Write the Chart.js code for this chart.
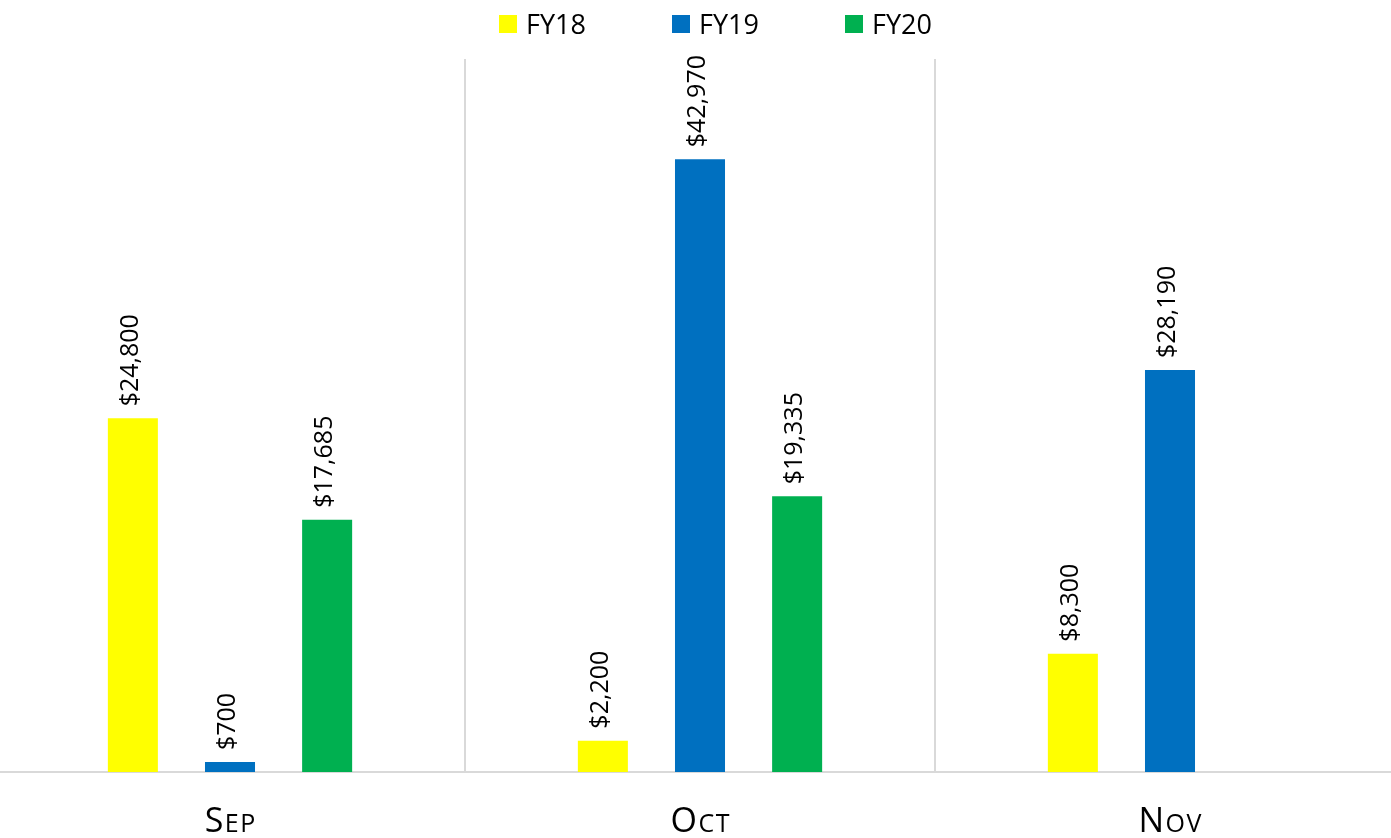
<!DOCTYPE html>
<html>
<head>
<meta charset="utf-8">
<script src="https://cdn.jsdelivr.net/npm/chart.js@4.4.1/dist/chart.umd.min.js"></script>
<style>
  html, body { margin: 0; padding: 0; background: #fff; overflow: hidden; width: 1391px; height: 838px; }
  /* plot is slightly wider than the window, like the original */
  #wrap { position: absolute; left: -5px; top: 0; width: 1410px; height: 838px; }
</style>
</head>
<body>
<div id="wrap"><canvas id="chart"></canvas></div>
<script>
// categories and series
const months = ["Sep", "Oct", "Nov"];
const seriesNames = ["FY18", "FY19", "FY20"];
const fy18 = [24800, 2200, 8300];
const fy19 = [700, 42970, 28190];
const fy20 = [17685, 19335, null];
const seriesColors = ["#FFFF00", "#0070C0", "#00B050"];

const FONT = "'Open Sans', 'Liberation Sans', sans-serif";

// values above bars, rotated
const valueLabels = {
  id: 'valueLabels',
  afterDatasetsDraw(chart) {
    const ctx = chart.ctx;
    ctx.save();
    ctx.fillStyle = '#000';
    ctx.font = '25px ' + FONT;
    ctx.textAlign = 'left';
    ctx.textBaseline = 'middle';
    chart.data.datasets.forEach((ds, di) => {
      const meta = chart.getDatasetMeta(di);
      meta.data.forEach((bar, i) => {
        const v = ds.data[i];
        if (v === null || v === undefined) return;
        ctx.save();
        ctx.translate(bar.x - 2, bar.y - 12);
        ctx.rotate(-Math.PI / 2);
        ctx.fillText('$' + v.toLocaleString('en-US'), 0, 0);
        ctx.restore();
      });
    });
    ctx.restore();
  }
};

// small caps month names under the axis
const monthLabels = {
  id: 'monthLabels',
  afterDraw(chart) {
    const ctx = chart.ctx;
    const xs = chart.scales.x;
    const big = '34px ' + FONT, small = '25px ' + FONT;
    const spacing = 1.5;
    ctx.save();
    ctx.fillStyle = '#000';
    ctx.textBaseline = 'alphabetic';
    ctx.textAlign = 'left';
    months.forEach((m, i) => {
      const chars = m.toUpperCase().split('');
      const widths = chars.map((c, k) => { ctx.font = k === 0 ? big : small; return ctx.measureText(c).width; });
      const total = widths.reduce((a, b) => a + b, 0) + spacing * (chars.length - 1);
      let x = xs.getPixelForValue(i) - total / 2;
      chars.forEach((c, k) => {
        ctx.font = k === 0 ? big : small;
        ctx.fillText(c, x, 832);
        x += widths[k] + spacing;
      });
    });
    ctx.restore();
  }
};

// legend on top
const topLegend = {
  id: 'topLegend',
  afterDraw(chart) {
    const ctx = chart.ctx;
    ctx.save();
    ctx.font = '27px ' + FONT;
    ctx.textBaseline = 'alphabetic';
    ctx.textAlign = 'left';
    let x = 504;
    seriesNames.forEach((name, i) => {
      ctx.fillStyle = seriesColors[i];
      ctx.fillRect(x, 15, 18, 18);
      ctx.fillStyle = '#000';
      ctx.fillText(name, x + 27, 34);
      x += 173;
    });
    ctx.restore();
  }
};

const datasets = [fy18, fy19, fy20].map((d, i) => ({
  label: seriesNames[i],
  data: d,
  backgroundColor: seriesColors[i],
  borderWidth: 0,
  categoryPercentage: 0.62,
  barPercentage: 0.515
}));

new Chart(document.getElementById('chart'), {
  type: 'bar',
  data: { labels: months, datasets: datasets },
  options: {
    responsive: true,
    maintainAspectRatio: false,
    animation: false,
    layout: { padding: { top: 59, bottom: 66, left: 0, right: 0 } },
    plugins: {
      legend: { display: false },
      tooltip: { enabled: false }
    },
    scales: {
      x: {
        offset: true,
        grid: { offset: true, color: '#d9d9d9', lineWidth: 2, drawTicks: false },
        border: { color: '#d9d9d9', width: 2 },
        ticks: { display: false }
      },
      y: {
        display: false,
        min: 0,
        max: 50000
      }
    }
  },
  plugins: [valueLabels, monthLabels, topLegend]
});
</script>
</body>
</html>
